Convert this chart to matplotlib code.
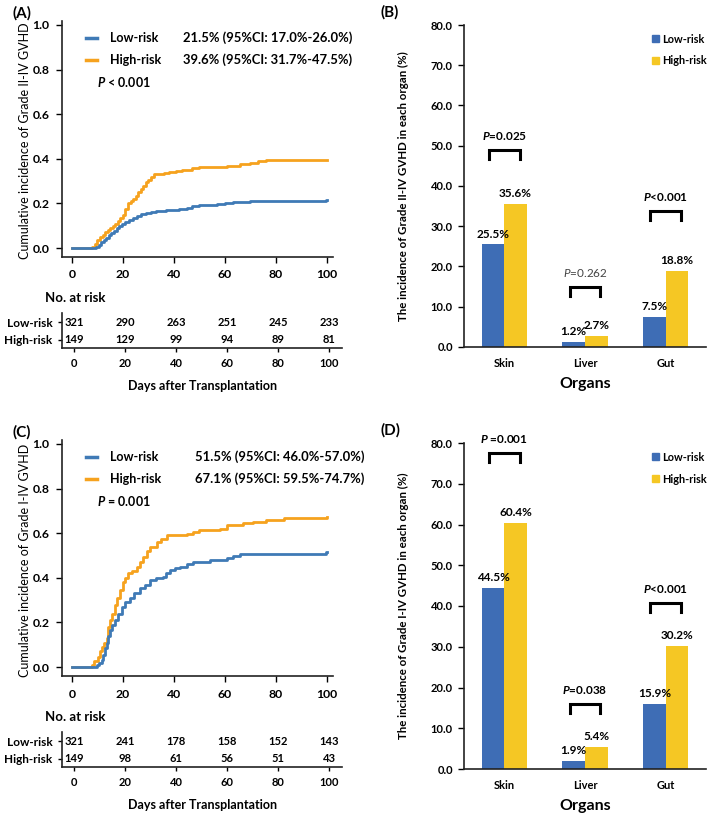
import matplotlib
matplotlib.use("Agg")
import matplotlib.pyplot as plt
from matplotlib.patches import Patch

plt.rcParams['font.family'] = ['Lato', 'DejaVu Sans']
plt.rcParams['mathtext.fontset'] = 'custom'
plt.rcParams['mathtext.it'] = 'Lato:italic:bold'
plt.rcParams['mathtext.sf'] = 'Lato:italic'
plt.rcParams['mathtext.rm'] = 'Lato:bold'

W, H = 709, 817
KM_BLUE = '#3F7AB6'
KM_ORANGE = '#F6A21E'
BAR_BLUE = '#3E6DB5'
BAR_YELLOW = '#F5C724'

# ---------------- data ----------------
# Panel A: cumulative incidence, grade II-IV GVHD
a_low_t = [0, 9.5, 10.5, 11.5, 12.5, 13.5, 14.5, 15.5, 16.5, 17.5, 18.5, 19.5, 21, 22.5, 24, 25.5,
           27, 29, 31, 33, 35, 37, 39, 42, 45, 47, 50, 53, 57, 60, 63, 66, 70, 99.5, 100]
a_low_v = [0, 0.006, 0.015, 0.025, 0.035, 0.045, 0.058, 0.068, 0.078, 0.09, 0.10, 0.11, 0.115, 0.125,
           0.135, 0.145, 0.152, 0.158, 0.162, 0.165, 0.168, 0.170, 0.172, 0.175, 0.178, 0.188, 0.192,
           0.195, 0.199, 0.202, 0.205, 0.207, 0.209, 0.215, 0.215]
a_high_t = [0, 8, 9, 10, 11, 12, 13, 14, 15, 16, 17, 18, 19, 20, 21, 22, 23, 24, 25, 26, 27, 28, 29,
            30, 31, 32, 36, 38, 41, 43, 47, 50, 56, 61, 66, 70, 73, 76, 100]
a_high_v = [0, 0.007, 0.02, 0.035, 0.05, 0.06, 0.07, 0.08, 0.09, 0.10, 0.11, 0.12, 0.135, 0.15, 0.175,
            0.20, 0.21, 0.22, 0.235, 0.25, 0.265, 0.28, 0.295, 0.305, 0.32, 0.33, 0.335, 0.34, 0.345,
            0.35, 0.36, 0.362, 0.365, 0.37, 0.375, 0.38, 0.39, 0.396, 0.396]
# Panel C: cumulative incidence, grade I-IV GVHD
c_low_t = [0, 9.7, 10.5, 11.6, 12.3, 12.9, 13.6, 14.3, 14.9, 15.9, 16.9, 18.2, 19.5, 21, 22.7, 24.5,
           26.7, 28.5, 30.6, 33, 35.8, 37, 38.4, 40.5, 42.4, 45, 47.6, 54, 60.7, 63, 66, 70, 99.5, 100]
c_low_v = [0, 0.01, 0.02, 0.03, 0.055, 0.085, 0.11, 0.14, 0.166, 0.19, 0.21, 0.24, 0.27, 0.29, 0.31,
           0.33, 0.353, 0.37, 0.39, 0.398, 0.405, 0.42, 0.435, 0.443, 0.45, 0.46, 0.472, 0.482, 0.49,
           0.497, 0.505, 0.507, 0.515, 0.515]
c_high_t = [0, 7.7, 8.8, 10.3, 11, 11.6, 12.6, 13.6, 14.2, 15, 15.6, 16.9, 17.8, 18.8, 20.1, 21,
            22, 23.5, 25.4, 26.8, 28, 29.3, 30.6, 33.2, 35, 37.1, 45, 47.6, 50, 58, 60.7, 67, 71, 76,
            83, 100]
c_high_v = [0, 0.01, 0.025, 0.046, 0.07, 0.09, 0.11, 0.13, 0.18, 0.21, 0.24, 0.28, 0.31, 0.345, 0.38,
            0.40, 0.42, 0.43, 0.45, 0.47, 0.495, 0.52, 0.54, 0.56, 0.575, 0.59, 0.595, 0.607, 0.615,
            0.62, 0.637, 0.645, 0.65, 0.66, 0.67, 0.671]

groups = ['Low-risk', 'High-risk']
a_ci = ['21.5% (95%CI: 17.0%-26.0%)', '39.6% (95%CI: 31.7%-47.5%)']
c_ci = ['51.5% (95%CI: 46.0%-57.0%)', '67.1% (95%CI: 59.5%-74.7%)']
a_p = 'P < 0.001'
c_p = 'P = 0.001'

risk_days = [0, 20, 40, 60, 80, 100]
a_risk_low = [321, 290, 263, 251, 245, 233]
a_risk_high = [149, 129, 99, 94, 89, 81]
c_risk_low = [321, 241, 178, 158, 152, 143]
c_risk_high = [149, 98, 61, 56, 51, 43]

organs = ['Skin', 'Liver', 'Gut']
b_low = [25.5, 1.2, 7.5]
b_high = [35.6, 2.7, 18.8]
b_pvals = ['0.025', '0.262', '0.001']
b_pops = ['=', '=', '<']
b_bracket_top = [49.0, 14.9, 33.7]
d_low = [44.5, 1.9, 15.9]
d_high = [60.4, 5.4, 30.2]
d_pvals = ['0.001', '0.038', '0.001']
d_pops = [' =', '=', '<']
d_bracket_top = [77.5, 16.0, 40.7]


def fig_ax(fig, left, top, right, bottom):
    return fig.add_axes([left / W, 1 - bottom / H, (right - left) / W, (bottom - top) / H])


fig = plt.figure(figsize=(W / 100, H / 100), dpi=100)


def km_panel(top_px, low_t, low_v, high_t, high_v, ci, ptxt, ylabel, letter, risk_low, risk_high,
             ci_x):
    ax = fig_ax(fig, 62, top_px - 4.5, 333, top_px + 232)
    ax.step(low_t, low_v, where='post', color=KM_BLUE, lw=2.0, zorder=3)
    ax.step(high_t, high_v, where='post', color=KM_ORANGE, lw=2.0, zorder=2)
    ax.set_xlim(-3.9, 102.4)
    ax.set_ylim(-0.04, 1.02)
    ax.set_xticks([0, 20, 40, 60, 80, 100])
    ax.set_yticks([0, 0.2, 0.4, 0.6, 0.8, 1.0])
    ax.set_yticklabels(['%.1f' % v for v in [0, 0.2, 0.4, 0.6, 0.8, 1.0]])
    for s in ['top', 'right']:
        ax.spines[s].set_visible(False)
    for s in ['left', 'bottom']:
        ax.spines[s].set_linewidth(1.2)
        ax.spines[s].set_color('#222222')
    ax.tick_params(direction='out', length=4, width=1.0, labelsize=8.8, pad=5)
    for lab in ax.get_xticklabels() + ax.get_yticklabels():
        lab.set_fontweight('bold')
    ax.set_ylabel(ylabel, fontsize=9, va='center')
    ax.yaxis.set_label_coords(-0.137, 0.49)
    # legend (manual)
    for i, (g, c, col) in enumerate(zip(groups, ci, [KM_BLUE, KM_ORANGE])):
        ypx = top_px + 13 + i * 22
        yd = 1 - (ypx - (top_px - 4.5)) / 236.5
        ax.plot([0.088, 0.128], [yd, yd], transform=ax.transAxes, color=col, lw=2.5, clip_on=False)
        ax.text(0.178, yd, g, transform=ax.transAxes, fontsize=9, fontweight='bold', va='center')
        ax.text(ci_x, yd, c, transform=ax.transAxes, fontsize=9.4, fontweight='bold', va='center')
    yd = 1 - (top_px + 57 - (top_px - 4.5)) / 236.5
    ax.text(0.128, yd, r'$\mathit{P}$' + ptxt[1:], transform=ax.transAxes, fontsize=9,
            fontweight='bold', va='center')
    fig.text(12 / W, 1 - (top_px - 12) / H, letter, fontsize=11, fontweight='bold', va='center')

    # risk table
    tb = fig_ax(fig, 62, top_px + 288, 342, top_px + 323)
    tb.set_xlim(-4.7, 105.1)
    tb.set_ylim(0, 1)
    for s in ['top', 'right']:
        tb.spines[s].set_visible(False)
    for s in ['left', 'bottom']:
        tb.spines[s].set_linewidth(1.2)
        tb.spines[s].set_color('#222222')
    tb.set_xticks(risk_days)
    tb.set_yticks([0.74, 0.23])
    tb.set_yticklabels(groups)
    tb.tick_params(direction='out', length=3, width=1.0, labelsize=8.5, pad=4)
    tb.tick_params(axis='x', labelsize=8)
    for lab in tb.get_xticklabels() + tb.get_yticklabels():
        lab.set_fontweight('bold')
    for yv, row in zip([0.74, 0.23], [risk_low, risk_high]):
        for d, n in zip(risk_days, row):
            tb.text(d, yv, str(n), ha='center', va='center', fontsize=8, fontweight='bold')
    fig.text(45 / W, 1 - (top_px + 273) / H, 'No. at risk', fontsize=9.5, fontweight='bold',
             va='center')
    fig.text(203 / W, 1 - (top_px + 361) / H, 'Days after Transplantation', fontsize=9,
             fontweight='bold', va='center', ha='center')
    return ax


km_panel(25, a_low_t, a_low_v, a_high_t, a_high_v, a_ci, a_p,
         'Cumulative incidence of Grade II-IV GVHD', '(A)', a_risk_low, a_risk_high, 0.448)
km_panel(444, c_low_t, c_low_v, c_high_t, c_high_v, c_ci, c_p,
         'Cumulative incidence of Grade I-IV GVHD', '(C)', c_risk_low, c_risk_high, 0.49)


def bar_panel(top_px, bottom_px, low, high, pvals, pops, btops, ylabel, letter):
    ax = fig_ax(fig, 464, top_px, 706, bottom_px)
    x = list(range(len(organs)))
    bw = 0.28
    xl = [i - bw / 2 for i in x]
    xh = [i + bw / 2 for i in x]
    ax.bar(xl, low, width=bw, color=BAR_BLUE, label='Low-risk')
    ax.bar(xh, high, width=bw, color=BAR_YELLOW, label='High-risk')
    for xi, v in zip(xl, low):
        ax.text(xi, v + 1.2, '%.1f%%' % v, ha='center', va='bottom', fontsize=8.5, fontweight='bold')
    for xi, v in zip(xh, high):
        ax.text(xi, v + 1.2, '%.1f%%' % v, ha='center', va='bottom', fontsize=8.5, fontweight='bold')
    for i, (pv, op, bt) in enumerate(zip(pvals, pops, btops)):
        ax.plot([i - 0.19, i - 0.19, i + 0.19, i + 0.19], [bt - 2.2, bt, bt, bt - 2.2],
                color='black', lw=2.2, solid_joinstyle='miter', clip_on=False)
        normal = (letter == '(B)' and i == 1)
        if normal:
            ax.text(i, bt + 2.0, r'$\mathsf{P}$' + op + pv, ha='center', va='bottom', fontsize=8.5,
                    color='#444444')
        else:
            ax.text(i, bt + 2.0, r'$\mathit{P}$' + op + pv, ha='center', va='bottom', fontsize=8.5,
                    fontweight='bold')
    ax.set_xlim(-0.5, 2.5)
    ax.set_ylim(0, 80)
    ax.set_xticks(x)
    ax.set_xticklabels(organs)
    ax.set_yticks(range(0, 81, 10))
    ax.set_yticklabels(['%.1f' % v for v in range(0, 81, 10)])
    for s in ['top', 'right']:
        ax.spines[s].set_visible(False)
    for s in ['left', 'bottom']:
        ax.spines[s].set_linewidth(1.2)
        ax.spines[s].set_color('#222222')
    ax.tick_params(axis='y', direction='out', length=4, width=1.0, labelsize=8, pad=4)
    ax.tick_params(axis='x', length=0, labelsize=8, pad=8)
    for lab in ax.get_xticklabels() + ax.get_yticklabels():
        lab.set_fontweight('bold')
    ax.set_ylabel(ylabel, fontsize=8.3, fontweight='bold', va='center')
    ax.yaxis.set_label_coords(-0.252, 0.5)
    ax.set_xlabel('Organs', fontsize=11.5, fontweight='bold', va='center')
    ax.xaxis.set_label_coords(0.5, -0.115)
    handles = [Patch(color=BAR_BLUE, label='Low-risk'), Patch(color=BAR_YELLOW, label='High-risk')]
    ax.legend(handles=handles, loc='upper left', bbox_to_anchor=(0.755, 0.99), frameon=False,
              handlelength=0.65, handleheight=0.65, handletextpad=0.3, labelspacing=1.0,
              borderpad=0, prop={'weight': 'bold', 'size': 7.8})
    fig.text(380 / W, 1 - (top_px - 13) / H, letter, fontsize=11, fontweight='bold', va='center')
    return ax


bar_panel(25, 347, b_low, b_high, b_pvals, b_pops, b_bracket_top,
          'The incidence of Grade II-IV GVHD in each organ (%)', '(B)')
bar_panel(443, 769, d_low, d_high, d_pvals, d_pops, d_bracket_top,
          'The incidence of Grade I-IV GVHD in each organ (%)', '(D)')

fig.savefig('out.png', dpi=100)
